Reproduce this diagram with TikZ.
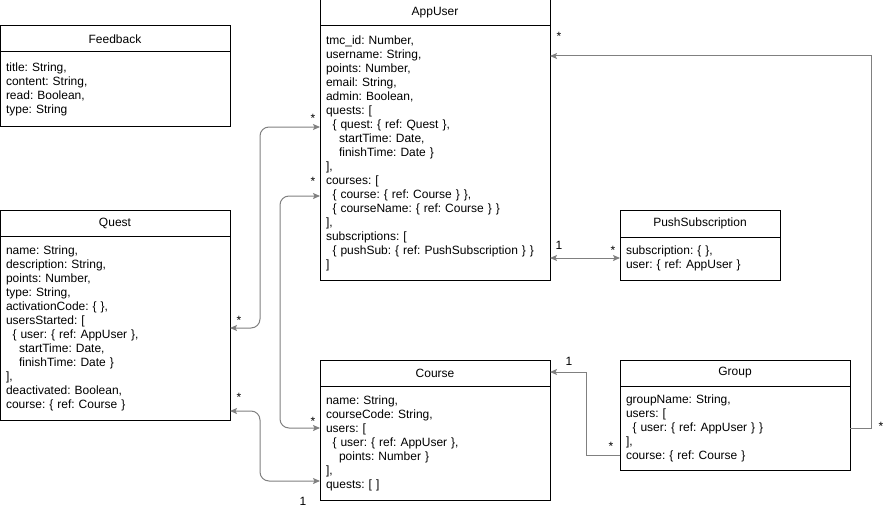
\documentclass[tikz,border=0pt]{standalone}
\usepackage{fontspec}
\setmainfont{Liberation Sans}
\usetikzlibrary{arrows.meta,positioning}

\newcommand{\indA}{\hspace*{6.5pt}}
\newcommand{\indB}{\hspace*{13pt}}

\begin{document}
\begin{tikzpicture}[x=1pt, y=-1pt,
	every node/.style={font=\fontsize{12}{14}\selectfont\frenchspacing},
	classhead/.style={draw, line width=1pt, minimum width=230pt, minimum height=26pt, inner sep=0pt, outer sep=0pt, anchor=north west},
	classattrs/.style={draw, line width=1pt, text width=218pt, inner xsep=6pt, inner ysep=0pt, outer sep=0pt, align=left},
	assoc/.style={draw=black!50, line width=1pt, >={Stealth[length=7pt,width=6pt,inset=1.5pt]}},
	mult/.style={anchor=base, inner sep=0pt}]
	\useasboundingbox (0,0) rectangle (891,511);

	\node[classhead] (feedback) at (0,26) {Feedback};
	\node[classattrs, minimum height=74pt] (feedbackattrs) [below=0pt of feedback]
		{title: String,\\ content: String,\\ read: Boolean,\\ type: String};

	\node[classhead] (appuser) at (320,0) {AppUser};
	\node[classattrs, minimum height=254pt] (appuserattrs) [below=0pt of appuser]
		{tmc\_id: Number,\\ username: String,\\ points: Number,\\ email: String,\\ admin: Boolean,\\
		quests: [\\ \indA\{ quest: \{ ref: Quest \},\\ \indB startTime: Date,\\ \indB finishTime: Date \}\\ ],\\
		courses: [\\ \indA\{ course: \{ ref: Course \} \},\\ \indA\{ courseName: \{ ref: Course \} \}\\ ],\\
		subscriptions: [\\ \indA\{ pushSub: \{ ref: PushSubscription \} \}\\ ]};

	\node[classhead] (quest) at (0,210) {Quest};
	\node[classattrs, minimum height=184pt] (questattrs) [below=0pt of quest]
		{name: String,\\ description: String,\\ points: Number,\\ type: String,\\ activationCode: \{ \},\\
		usersStarted: [\\ \indA\{ user: \{ ref: AppUser \},\\ \indB startTime: Date,\\ \indB finishTime: Date \}\\ ],\\
		deactivated: Boolean,\\ course: \{ ref: Course \}};

	\node[classhead, minimum width=160pt, minimum height=27pt] (pushsub) at (620,210) {PushSubscription};
	\node[classattrs, text width=148pt, minimum height=43pt] (pushsubattrs) [below=0pt of pushsub]
		{subscription: \{ \},\\ user: \{ ref: AppUser \}};

	\node[classhead] (course) at (320,360) {Course};
	\node[classattrs, minimum height=114pt] (courseattrs) [below=0pt of course]
		{name: String,\\ courseCode: String,\\ users: [\\ \indA\{ user: \{ ref: AppUser \},\\ \indB points: Number \}\\ ],\\ quests: [ ]};

	\node[classhead] (group) at (620,360) {Group};
	\node[classattrs, minimum height=84pt] (groupattrs) [below=0pt of group]
		{groupName: String,\\ users: [\\ \indA\{ user: \{ ref: AppUser \} \}\\ ],\\ course: \{ ref: Course \}};

	% Quest <-> AppUser
	\draw[assoc, <->, rounded corners=9pt] (questattrs.east |- 0,328) node[mult, xshift=9pt, yshift=4pt] (m1) {*}
		-- (260,328) -- (260,127) -- (appuserattrs.west |- 0,127) node[mult, xshift=-7pt, yshift=5pt] (m2) {*};
	\draw[assoc, <->, rounded corners=9pt] (appuserattrs.west |- 0,196) node[mult, xshift=-7pt, yshift=11pt] (m3) {*}
		-- (280,196) -- (280,428) -- (courseattrs.west |- 0,428) node[mult, xshift=-7pt, yshift=3pt] (m4) {*};
	\draw[assoc, <->, rounded corners=9pt] (questattrs.east |- 0,411) node[mult, xshift=9pt, yshift=10pt] (m5) {*}
		-- (260,411) -- (260,481) -- (courseattrs.west |- 0,481) node[mult, xshift=-17pt, yshift=-24pt] (m6) {1};

	\draw[assoc, <->] (appuserattrs.east |- 0,258) node[mult, xshift=9pt, yshift=9pt] (m7) {1}
		-- (pushsubattrs.west |- 0,258) node[mult, xshift=-7pt, yshift=4pt] (m8) {*};

	\draw[assoc, ->] (groupattrs.west |- 0,455) node[mult, xshift=-9pt, yshift=5pt] (m9) {*}
		-| (586,372) -- (course.east |- 0,372) node[mult, xshift=19pt, yshift=7pt] (m10) {1};
	\draw[assoc, ->] (groupattrs.east |- 0,428) node[mult, xshift=31pt, yshift=-2pt] (m11) {*}
		-| (871,56) -- (appuserattrs.east |- 0,56) node[mult, xshift=9pt, yshift=15pt] (m12) {*};
\end{tikzpicture}
\end{document}
